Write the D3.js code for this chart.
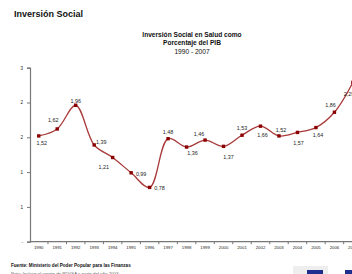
<!DOCTYPE html>
<html>
<head>
<meta charset="utf-8">
<script src="https://cdn.jsdelivr.net/npm/d3@7"></script>
<style>
  body { margin: 0; background: #fff; }
  svg { display: block; font-family: 'Liberation Sans', Arial, sans-serif; }
</style>
</head>
<body>
<div id="chart"></div>
<script>
// data
const years = ['1990', '1991', '1992', '1993', '1994', '1995', '1996', '1997', '1998',
  '1999', '2000', '2001', '2002', '2003', '2004', '2005', '2006', '2007']
const values = [1.52, 1.62, 1.96, 1.39, 1.21, 0.99, 0.78, 1.48, 1.36,
  1.46, 1.37, 1.53, 1.66, 1.52, 1.57, 1.64, 1.86, 2.29]
const yTicks = [0, 0.5, 1, 1.5, 2, 2.5]

// where each data label sits relative to its point (dx, dy)
const labelOffsets = [[3, 7], [-4, -9], [0, -4], [7, -3], [-9, 10], [10, 1], [10, 1],
  [0, -7], [6, 6], [-6, -6], [5, 11], [0, -7], [2, 9], [2, -6], [1, 11], [2, 8], [-4, -7], [-4, 12]]

const width = 352
const height = 274

const svg = d3.select('#chart')
  .append('svg')
  .attr('width', width)
  .attr('height', height)

// page heading
svg.append('text')
  .attr('x', 14)
  .attr('y', 16.5)
  .attr('font-size', '9px')
  .attr('font-weight', 'bold')
  .attr('fill', '#111')
  .text('Inversión Social')

// chart title
const titleLines = [
  ['Inversión Social en Salud como', 'bold'],
  ['Porcentaje del PIB', 'bold'],
  ['1990 - 2007', 'normal'],
]
svg.append('g')
  .selectAll('text')
  .data(titleLines)
  .enter()
  .append('text')
  .attr('x', 192)
  .attr('y', (d, i) => 36.5 + i * 8.5)
  .attr('text-anchor', 'middle')
  .attr('font-size', '6.6px')
  .attr('font-weight', (d) => d[1])
  .attr('fill', '#111')
  .text((d) => d[0])

// scales
const x = d3.scaleBand()
  .domain(years)
  .range([29.5, 29.5 + 18.48 * years.length])

const y = d3.scaleLinear()
  .domain([0, 2.5])
  .range([241.7, 67.7])

const g = svg.append('g')

// y axis, Excel style rounded labels
const yAxis = g.append('g')
  .attr('transform', 'translate(30,0)')
  .call(d3.axisLeft(y)
    .tickValues(yTicks)
    .tickSize(3)
    .tickFormat((d) => (d === 0 ? '-' : Math.round(d))))
yAxis.select('.domain').attr('stroke', '#777').attr('stroke-width', 1.2)
yAxis.selectAll('.tick line').attr('stroke', '#777')
yAxis.selectAll('.tick text')
  .attr('x', -7)
  .attr('font-size', '4.5px')
  .attr('fill', '#222')

// x axis, ticks at band edges
const xAxis = g.append('g')
  .attr('transform', 'translate(0,' + y(0) + ')')
xAxis.append('line')
  .attr('x1', 30)
  .attr('x2', width)
  .attr('stroke', '#777')
  .attr('stroke-width', 1.2)
xAxis.selectAll('line.tk')
  .data(years)
  .enter()
  .append('line')
  .attr('class', 'tk')
  .attr('x1', (d) => x(d) + x.bandwidth())
  .attr('x2', (d) => x(d) + x.bandwidth())
  .attr('y1', 0)
  .attr('y2', 2.5)
  .attr('stroke', '#777')
xAxis.selectAll('text')
  .data(years)
  .enter()
  .append('text')
  .attr('x', (d) => x(d) + x.bandwidth() / 2)
  .attr('y', 7)
  .attr('text-anchor', 'middle')
  .attr('font-size', '4.3px')
  .attr('fill', '#222')
  .text((d) => d)

// smoothed line
const cx = (i) => x(years[i]) + x.bandwidth() / 2
const line = d3.line()
  .x((d, i) => cx(i))
  .y((d) => y(d))
  .curve(d3.curveCatmullRom.alpha(0.5))

g.append('path')
  .datum(values)
  .attr('fill', 'none')
  .attr('stroke', '#a83a3a')
  .attr('stroke-width', 1.3)
  .attr('d', line)

g.append('g')
  .selectAll('rect')
  .data(values)
  .enter()
  .append('rect')
  .attr('x', (d, i) => cx(i) - 1.7)
  .attr('y', (d) => y(d) - 1.7)
  .attr('width', 3.4)
  .attr('height', 3.4)
  .attr('fill', '#8b0000')

// data labels
const fmt = d3.format('.2f')
g.append('g')
  .selectAll('text')
  .data(values)
  .enter()
  .append('text')
  .attr('x', (d, i) => cx(i) + labelOffsets[i][0])
  .attr('y', (d, i) => y(d) + labelOffsets[i][1])
  .attr('dy', '0.35em')
  .attr('text-anchor', 'middle')
  .attr('font-size', '5.4px')
  .attr('fill', '#222')
  .text((d) => fmt(d).replace('.', ','))

// footer
svg.append('text')
  .attr('x', 11)
  .attr('y', 266.5)
  .attr('font-size', '4.6px')
  .attr('font-weight', 'bold')
  .attr('fill', '#111')
  .text('Fuente: Ministerio del Poder Popular para las Finanzas')
svg.append('text')
  .attr('x', 11)
  .attr('y', 275)
  .attr('font-size', '4.4px')
  .attr('fill', '#666')
  .text('Nota: Incluye el aporte de PDVSA a partir del año 2003')

// logos in the corner, cut off by the frame
svg.append('rect')
  .attr('x', 293).attr('y', 266).attr('width', 35).attr('height', 8)
  .attr('fill', '#eee')
svg.append('rect')
  .attr('x', 307).attr('y', 270).attr('width', 16).attr('height', 4)
  .attr('fill', '#1f2f8f')
svg.append('rect')
  .attr('x', 345).attr('y', 270).attr('width', 7).attr('height', 4)
  .attr('fill', '#1f2f8f')
</script>
</body>
</html>
